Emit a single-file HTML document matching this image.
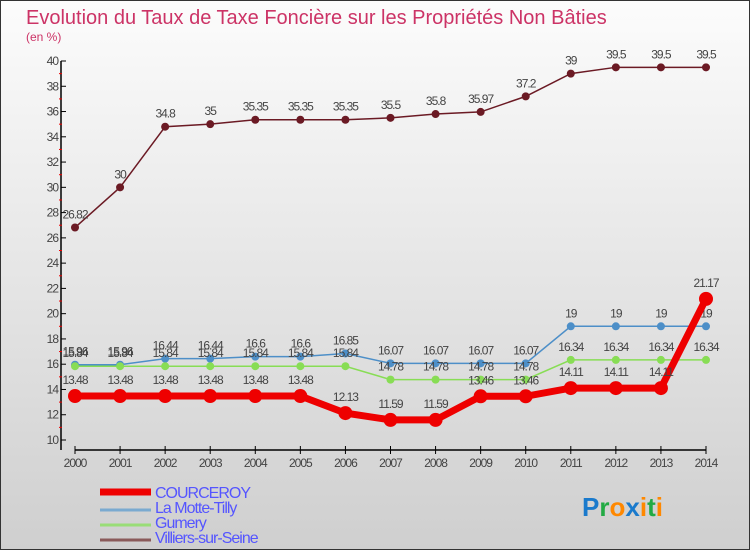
<!DOCTYPE html>
<html><head><meta charset="utf-8"><style>
body{margin:0}
#c{width:750px;height:550px;position:relative;background:linear-gradient(#fcfcfc,#cfcfcf);box-sizing:border-box;border:1px solid #333;font-family:"Liberation Sans",sans-serif;overflow:hidden}
</style></head><body>
<div id="c">
<svg id="s" width="748" height="548" viewBox="1 1 748 548"></svg>
</div>
<script>
const years=[2000,2001,2002,2003,2004,2005,2006,2007,2008,2009,2010,2011,2012,2013,2014];
const courceroy=[13.48,13.48,13.48,13.48,13.48,13.48,12.13,11.59,11.59,13.46,13.46,14.11,14.11,14.11,21.17];
const motte=[15.96,15.96,16.44,16.44,16.6,16.6,16.85,16.07,16.07,16.07,16.07,19,19,19,19];
const gumery=[15.84,15.84,15.84,15.84,15.84,15.84,15.84,14.78,14.78,14.78,14.78,16.34,16.34,16.34,16.34];
const villiers=[26.82,30,34.8,35,35.35,35.35,35.35,35.5,35.8,35.97,37.2,39,39.5,39.5,39.5];
const yTicks=[10,12,14,16,18,20,22,24,26,28,30,32,34,36,38,40];
const NS='http://www.w3.org/2000/svg';
const s=document.getElementById('s');
const X=i=>75+i*(706-75)/(years.length-1);
const Y=v=>440-(v-10)*(440-61)/30;
function el(t,a,txt){const e=document.createElementNS(NS,t);for(const k in a)e.setAttribute(k,a[k]);if(txt!==undefined)e.textContent=txt;s.appendChild(e);return e;}
let e;
e=el('text',{x:26,y:24,'font-size':20,fill:'#cc3366'},'Evolution du Taux de Taxe Foncière sur les Propriétés Non Bâties');

e=el('text',{x:26,y:41,'font-size':12,fill:'#cc3366'},'(en %)');

e=el('line',{x1:61,y1:61,x2:61,y2:450,stroke:'#000','stroke-width':1.5});

e=el('line',{x1:75,y1:450,x2:706,y2:450,stroke:'#000','stroke-width':1.5});

yTicks.forEach(v=>{
 e=el('line',{x1:61,y1:Y(v),x2:66,y2:Y(v),stroke:'#000'});
 
 if(v<40){e=el('line',{x1:59,y1:Y(v+1),x2:62,y2:Y(v+1),stroke:'#e00'});
 }
 e=el('text',{x:58,y:Y(v)+4,'font-size':12,fill:'#444','text-anchor':'end','letter-spacing':'-1'},v);
 
});
years.forEach((y,i)=>{
 e=el('line',{x1:X(i),y1:446,x2:X(i),y2:454,stroke:'#000'});
 
 e=el('text',{x:X(i),y:467,'font-size':12,fill:'#444','text-anchor':'middle','letter-spacing':'-1'},y);
 
});
function series(d,col,w,r,name){
 e=el('polyline',{points:d.map((v,i)=>X(i)+','+Y(v)).join(' '),fill:'none',stroke:col,'stroke-width':w});
 
 d.forEach((v,i)=>{
  e=el('circle',{cx:X(i),cy:Y(v),r:r,fill:col});
  
  e=el('text',{x:X(i),y:Y(v)-(r+5),'font-size':12,fill:'#444','text-anchor':'middle','letter-spacing':'-1'},v);
  
 });
}
series(villiers,'#6b1a24',1.5,4,'villiers');
series(motte,'#4d8fc8',1.5,4,'motte-tilly');
series(gumery,'#88dd55',1.5,4,'gumery');
series(courceroy,'#ee0000',7,7,'courceroy');
const leg=[['COURCEROY','#ee0000',7],['La Motte-Tilly','#7aaad0',3],['Gumery','#99dd77',3],['Villiers-sur-Seine','#8a5a5a',3]];
leg.forEach((l,i)=>{
 const yy=492+i*15;
 e=el('line',{x1:100,y1:yy+(i?3:0),x2:151,y2:yy+(i?3:0),stroke:l[1],'stroke-width':l[2]});
 
 e=el('text',{x:155,y:yy+6,'font-size':16,fill:'#5555ff','letter-spacing':'-1'},l[0]);
 
});
e=el('text',{x:582,y:516,'font-size':26,'font-weight':'bold','font-family':'Liberation Sans'},'');

[['P','#1a7acc'],['r','#22aa44'],['o','#ff8800'],['x','#1a7acc'],['i','#ff8800'],['t','#22aa44'],['i','#ff8800']].forEach(p=>{const t=document.createElementNS(NS,'tspan');t.setAttribute('fill',p[1]);t.textContent=p[0];e.appendChild(t);});
</script>
</body></html>
